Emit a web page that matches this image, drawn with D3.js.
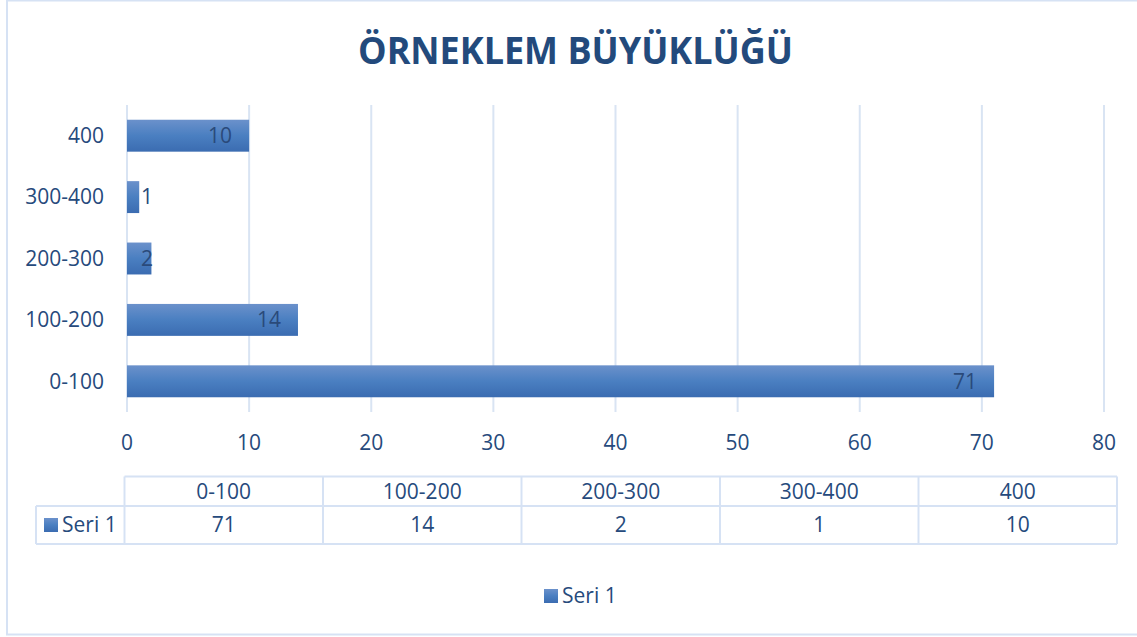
<!DOCTYPE html>
<html><head><meta charset="utf-8">
<script src="https://cdn.jsdelivr.net/npm/d3@7"></script>
<style>body{margin:0;background:#fff}svg{display:block}text{font-family:"Open Sans",sans-serif}</style>
</head><body><svg id="c" width="1137" height="637"></svg>
<script>
const categories = ["0-100","100-200","200-300","300-400","400"];
const seriesName = "Seri 1";
const values = [71,14,2,1,10];
const xTicks = [0,10,20,30,40,50,60,70,80];
const title = "ÖRNEKLEM BÜYÜKLÜĞÜ";

const svg = d3.select("#c");
const textColor = "#264a7c", gridColor = "#d9e4f3", borderColor = "#d6e2f4";
const fs = 21;

const defs = svg.append("defs");
const gr = defs.append("linearGradient").attr("id","bg").attr("x1",0).attr("y1",0).attr("x2",0).attr("y2",1);
gr.append("stop").attr("offset","0%").attr("stop-color","#6b91cb");
gr.append("stop").attr("offset","50%").attr("stop-color","#4a7fc1");
gr.append("stop").attr("offset","100%").attr("stop-color","#3b6cb1");

svg.append("rect").attr("x",7).attr("y",0.5).attr("width",1140).attr("height",634)
  .attr("fill","#fff").attr("stroke",borderColor).attr("stroke-width",2);

svg.append("text").attr("x",575.5).attr("y",64).attr("text-anchor","middle")
  .attr("font-size",37).attr("font-weight","bold").attr("fill","#234a7c")
  .attr("textLength",435).attr("lengthAdjust","spacingAndGlyphs").text(title);

const x = d3.scaleLinear().domain([0,80]).range([127,1104]);
const y = d3.scaleBand().domain(categories.slice().reverse()).range([105,412]).paddingInner(0.48).paddingOuter(0.24);

// gridlines
svg.append("g").selectAll("line").data(xTicks).join("line")
  .attr("x1",d=>x(d)).attr("x2",d=>x(d)).attr("y1",105).attr("y2",412)
  .attr("stroke",gridColor).attr("stroke-width",2);

// bars
svg.append("g").selectAll("rect").data(categories).join("rect")
  .attr("x",x(0)).attr("y",d=>y(d)).attr("height",y.bandwidth())
  .attr("width",(d,i)=>x(values[i])-x(0)).attr("fill","url(#bg)");

// data labels
svg.append("g").selectAll("text").data(categories).join("text")
  .attr("x",(d,i)=>Math.max(x(values[i])-17, x(0)+26))
  .attr("y",d=>y(d)+y.bandwidth()/2).attr("dy","0.35em")
  .attr("text-anchor","end").attr("font-size",fs).attr("fill","#2a4a7a")
  .text((d,i)=>values[i]);

// category axis labels
svg.append("g").selectAll("text").data(categories).join("text")
  .attr("x",104).attr("y",d=>y(d)+y.bandwidth()/2).attr("dy","0.35em")
  .attr("text-anchor","end").attr("font-size",fs).attr("fill",textColor).text(d=>d);

// x axis labels
svg.append("g").selectAll("text").data(xTicks).join("text")
  .attr("x",d=>x(d)).attr("y",443).attr("dy","0.35em")
  .attr("text-anchor","middle").attr("font-size",fs).attr("fill",textColor).text(d=>d);

// data table
const tx0 = 124.5, tx1 = 1117, colW = (tx1-tx0)/categories.length;
const r0 = 476.5, r1 = 506, r2 = 544, hx = 36;
const tg = svg.append("g").attr("fill","none").attr("stroke",borderColor).attr("stroke-width",2);
tg.append("line").attr("x1",tx0).attr("x2",tx1).attr("y1",r0).attr("y2",r0);
tg.append("line").attr("x1",hx).attr("x2",tx1).attr("y1",r1).attr("y2",r1);
tg.append("line").attr("x1",hx).attr("x2",tx1).attr("y1",r2).attr("y2",r2);
tg.append("line").attr("x1",hx).attr("x2",hx).attr("y1",r1).attr("y2",r2);
tg.selectAll(".v").data(d3.range(categories.length+1)).join("line")
  .attr("x1",i=>tx0+i*colW).attr("x2",i=>tx0+i*colW).attr("y1",r0).attr("y2",r2);

svg.append("g").selectAll("text").data(categories).join("text")
  .attr("x",(d,i)=>tx0+(i+0.5)*colW).attr("y",(r0+r1)/2).attr("dy","0.35em")
  .attr("text-anchor","middle").attr("font-size",fs).attr("fill",textColor).text(d=>d);
svg.append("g").selectAll("text").data(values).join("text")
  .attr("x",(d,i)=>tx0+(i+0.5)*colW).attr("y",(r1+r2)/2).attr("dy","0.35em")
  .attr("text-anchor","middle").attr("font-size",fs).attr("fill",textColor).text(d=>d);
svg.append("rect").attr("x",44).attr("y",518).attr("width",14).attr("height",14).attr("fill","url(#bg)");
svg.append("text").attr("x",62).attr("y",525).attr("dy","0.35em").attr("font-size",fs)
  .attr("fill",textColor).text(seriesName);

// legend
svg.append("rect").attr("x",544).attr("y",589).attr("width",14).attr("height",14).attr("fill","url(#bg)");
svg.append("text").attr("x",562).attr("y",596).attr("dy","0.35em").attr("font-size",fs)
  .attr("fill",textColor).text(seriesName);
</script></body></html>
